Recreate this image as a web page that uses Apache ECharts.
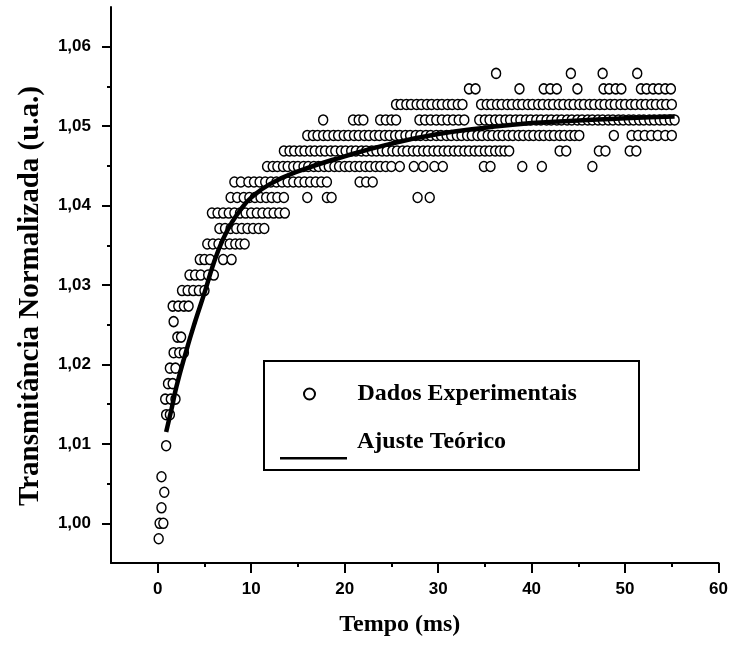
<!DOCTYPE html>
<html><head><meta charset="utf-8">
<script src="https://cdn.jsdelivr.net/npm/echarts@6/dist/echarts.min.js"></script>
<style>html,body{margin:0;padding:0;background:#fff}#c{width:731px;height:645px}</style>
</head><body><div id="c"></div>
<script>
// Quantized transmittance levels (rows of the experimental data)
const rowLevels = [0.99805, 1.00000, 1.00195, 1.00391, 1.00586, 1.00977, 1.01367, 1.01563, 1.01758, 1.01953,
  1.02148, 1.02344, 1.02539, 1.02734, 1.02930, 1.03125, 1.03320, 1.03516, 1.03711, 1.03906,
  1.04102, 1.04297, 1.04492, 1.04688, 1.04883, 1.05078, 1.05273, 1.05469, 1.05664];
// Times (ms) of the points lying on each level
const rowTimes = [
  [0.1],
  [0.2, 0.6],
  [0.4],
  [0.7],
  [0.4],
  [0.9],
  [0.9, 1.3],
  [0.8, 1.4, 1.9],
  [1.1, 1.6],
  [1.3, 1.9],
  [1.7, 2.3, 2.8],
  [2.1, 2.5],
  [1.7],
  [1.6, 2.2, 2.8, 3.3],
  [2.6, 3.2, 3.8, 4.4, 5.0],
  [3.4, 4.0, 4.6, 5.4, 6.0],
  [4.5, 5.0, 5.6, 7.0, 7.9],
  [5.3, 5.9, 6.5, 7.1, 7.7, 8.3, 8.8, 9.3],
  [6.6, 7.2, 7.8, 8.4, 9.0, 9.6, 10.2, 10.8, 11.4],
  [5.8, 6.4, 7.0, 7.6, 8.2, 8.8, 9.4, 10.0, 10.6, 11.2, 11.8, 12.4, 13.0, 13.6],
  [7.8, 8.5, 9.2, 9.8, 10.4, 11.0, 11.6, 12.2, 12.8, 13.5, 16.0, 18.1, 18.6, 27.8, 29.1],
  [8.2, 8.9, 9.7, 10.3, 10.9, 11.5, 12.1, 12.7, 13.3, 13.9, 14.5, 15.1, 15.7, 16.3, 16.9, 17.5, 18.1, 21.6, 22.3, 23.0],
  [11.7, 12.3, 12.8, 13.4, 13.9, 14.5, 15.0, 15.6, 16.1, 16.7, 17.2, 17.8, 18.3, 18.9, 19.4, 20.0, 20.5, 21.1, 21.6, 22.2, 22.7, 23.3, 23.8, 24.4, 25.0, 25.9, 27.4, 28.4, 29.6, 30.5, 34.9, 35.6, 39.0, 41.1, 46.5],
  [13.5, 14.1, 14.6, 15.2, 15.7, 16.3, 16.8, 17.4, 17.9, 18.5, 19.0, 19.6, 20.1, 20.7, 21.2, 21.8, 22.3, 22.9, 23.4, 24.0, 24.5, 25.1, 25.6, 26.2, 26.7, 27.3, 27.8, 28.4, 28.9, 29.5, 30.0, 30.6, 31.1, 31.7, 32.2, 32.8, 33.3, 33.9, 34.4, 35.0, 35.5, 36.1, 36.6, 37.1, 37.6, 43.0, 43.7, 47.2, 47.9, 50.5, 51.2],
  [16.0, 16.6, 17.1, 17.7, 18.2, 18.8, 19.3, 19.9, 20.4, 21.0, 21.5, 22.1, 22.6, 23.2, 23.7, 24.3, 24.8, 25.4, 25.9, 26.5, 27.0, 27.6, 28.1, 28.7, 29.2, 29.8, 30.3, 30.9, 31.4, 32.0, 32.5, 33.1, 33.6, 34.2, 34.7, 35.3, 35.8, 36.4, 36.9, 37.5, 38.0, 38.6, 39.1, 39.7, 40.2, 40.8, 41.3, 41.9, 42.4, 43.0, 43.5, 44.1, 44.6, 45.1, 48.8, 50.7, 51.4, 52.1, 52.8, 53.5, 54.3, 55.0],
  [17.7, 20.9, 21.5, 22.0, 23.8, 24.4, 25.0, 25.5, 28.0, 28.6, 29.2, 29.8, 30.4, 31.0, 31.6, 32.2, 32.8, 34.4, 35.0, 35.5, 36.1, 36.6, 37.2, 37.7, 38.3, 38.8, 39.4, 39.9, 40.5, 41.0, 41.6, 42.1, 42.7, 43.2, 43.8, 44.3, 44.9, 45.4, 46.0, 46.5, 47.1, 47.6, 48.2, 48.7, 49.3, 49.8, 50.4, 50.9, 51.5, 52.0, 52.6, 53.1, 53.7, 54.2, 54.8, 55.3],
  [25.5, 26.0, 26.6, 27.1, 27.7, 28.2, 28.8, 29.3, 29.9, 30.4, 31.0, 31.5, 32.1, 32.6, 34.6, 35.2, 35.7, 36.3, 36.8, 37.4, 37.9, 38.5, 39.0, 39.6, 40.1, 40.7, 41.2, 41.8, 42.3, 42.9, 43.4, 44.0, 44.5, 45.1, 45.6, 46.2, 46.7, 47.3, 47.8, 48.4, 48.9, 49.5, 50.0, 50.6, 51.1, 51.7, 52.2, 52.8, 53.3, 53.9, 54.4, 55.0],
  [33.3, 34.0, 38.7, 41.3, 42.0, 42.7, 44.9, 47.7, 48.3, 49.0, 49.6, 51.7, 52.3, 53.0, 53.6, 54.3, 54.9],
  [36.2, 44.2, 47.6, 51.3]
];
// Theoretical fit curve
const fitTime  = [0.9, 1.5, 2.0, 3.0, 4.0, 5.0, 6.0, 7.0, 8.0, 9.0, 10.0, 12.0, 15.0, 20.0, 25.0, 30.0, 35.0, 40.0, 45.0, 50.0, 55.3];
const fitValue = [1.0115, 1.0145, 1.0172, 1.0215, 1.0254, 1.0290, 1.0328, 1.0358, 1.0380, 1.0397, 1.0410, 1.0427, 1.0443, 1.0462, 1.0478, 1.0490, 1.0498, 1.0504, 1.0507, 1.0510, 1.0512];
const xMajorTicks = [0, 10, 20, 30, 40, 50, 60];
const xMinorTicks = [5, 15, 25, 35, 45, 55];
const yMajorTicks = [1.00, 1.01, 1.02, 1.03, 1.04, 1.05, 1.06];
const yMinorTicks = [1.005, 1.015, 1.025, 1.035, 1.045, 1.055];
const xTitle = 'Tempo (ms)';
const yTitle = 'Transmitância Normalizada (u.a.)';
const seriesNames = ['Dados Experimentais', 'Ajuste Teórico'];

const scatterData = [];
rowLevels.forEach((v, i) => rowTimes[i].forEach(t => scatterData.push([t, v])));
const fitData = fitTime.map((t, i) => [t, fitValue[i]]);

const serif = '"Liberation Serif", "Times New Roman", serif';
const sans = '"Liberation Sans", Arial, sans-serif';
const X = {min: -5, max: 60}, Y = {min: 0.995, max: 1.065};
const lineSt = {color: '#000', width: 2};

const chart = echarts.init(document.getElementById('c'), null, {renderer: 'canvas'});
chart.setOption({
  animation: false,
  backgroundColor: '#fff',
  grid: {left: 111, right: 8, top: 7, bottom: 82, containLabel: false},
  xAxis: [{
    type: 'value', min: X.min, max: X.max, position: 'bottom',
    axisLine: {onZero: false, lineStyle: lineSt},
    axisTick: {customValues: xMajorTicks, length: 10, lineStyle: lineSt},
    axisLabel: {customValues: xMajorTicks, margin: 18, color: '#000', fontFamily: sans, fontWeight: 'bold', fontSize: 17},
    splitLine: {show: false},
    name: xTitle, nameLocation: 'middle', nameGap: 50,
    nameTextStyle: {fontFamily: serif, fontWeight: 'bold', fontSize: 24, color: '#000', padding: [0, 30, 0, 0]}
  }, {
    type: 'value', min: X.min, max: X.max, position: 'bottom',
    axisLine: {show: false, onZero: false},
    axisTick: {customValues: xMinorTicks, length: 4, lineStyle: lineSt},
    axisLabel: {show: false}, splitLine: {show: false}
  }],
  yAxis: [{
    type: 'value', min: Y.min, max: Y.max, position: 'left',
    axisLine: {onZero: false, lineStyle: lineSt},
    axisTick: {customValues: yMajorTicks, length: 9, lineStyle: lineSt},
    axisLabel: {customValues: yMajorTicks, margin: 20, color: '#000', fontFamily: sans, fontWeight: 'bold', fontSize: 17,
      formatter: v => v.toFixed(2).replace('.', ',')},
    splitLine: {show: false},
    name: yTitle, nameLocation: 'middle', nameGap: 66, nameRotate: 90,
    nameTextStyle: {fontFamily: serif, fontWeight: 'bold', fontSize: 29, color: '#000', padding: [0, 22, 0, 0]}
  }, {
    type: 'value', min: Y.min, max: Y.max, position: 'left',
    axisLine: {show: false, onZero: false},
    axisTick: {customValues: yMinorTicks, length: 4, lineStyle: lineSt},
    axisLabel: {show: false}, splitLine: {show: false}
  }],
  legend: [{
    data: [{name: seriesNames[0], icon: 'circle'}],
    left: 298, top: 377, orient: 'vertical',
    itemWidth: 76, itemHeight: 11,
    textStyle: {fontFamily: serif, fontWeight: 'bold', fontSize: 24, color: '#000', padding: [0, 0, 0, 5]}
  }, {
    data: [{name: seriesNames[1], icon: 'path://M0,0h0.05v0.05h-0.05z M0,34h67v2.6h-67z'}],
    left: 275, top: 418, orient: 'vertical',
    itemWidth: 67, itemHeight: 36.6,
    textStyle: {fontFamily: serif, fontWeight: 'bold', fontSize: 24, color: '#000', padding: [0, 0, 0, 5]}
  }],
  graphic: [{
    type: 'rect', left: 263, top: 360, z: 3,
    shape: {width: 375, height: 109},
    style: {fill: '#fff', stroke: '#000', lineWidth: 2}
  }],
  series: [{
    name: seriesNames[0], type: 'scatter', xAxisIndex: 0, yAxisIndex: 0,
    symbol: 'circle', symbolSize: [9, 10],
    itemStyle: {color: '#fff', borderColor: '#000', borderWidth: 1.5, opacity: 1},
    data: scatterData, z: 2
  }, {
    name: seriesNames[1], type: 'line', xAxisIndex: 0, yAxisIndex: 0,
    showSymbol: false, symbol: 'none', smooth: true,
    lineStyle: {color: '#000', width: 4.5},
    itemStyle: {color: '#000'},
    data: fitData, z: 3
  }]
});
</script></body></html>
